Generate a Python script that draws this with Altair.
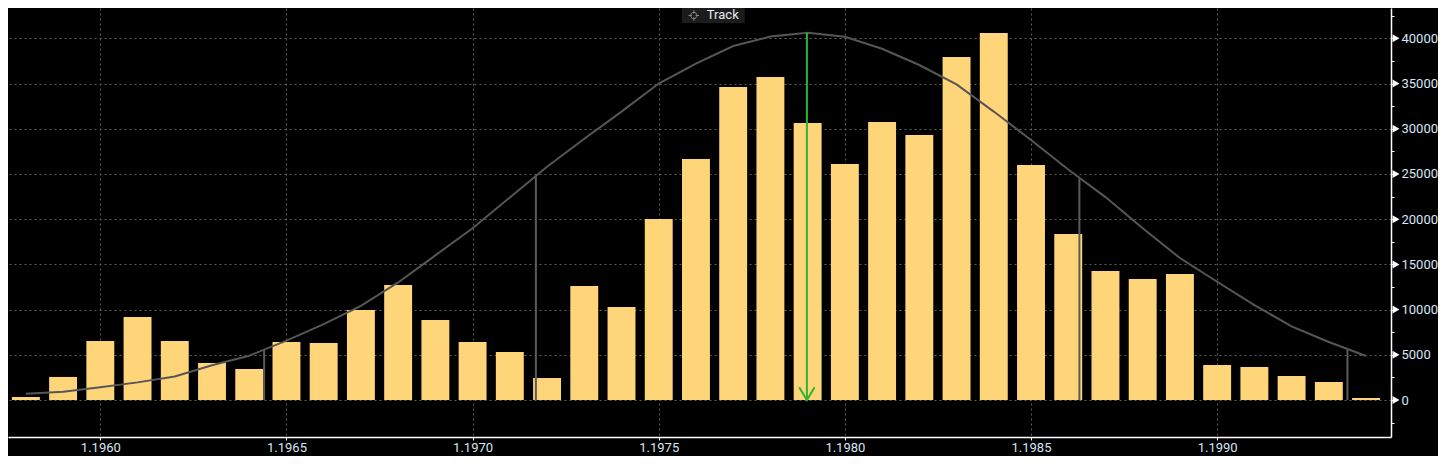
import altair as alt
import pandas as pd

# ---- data ----
prices = [1.1958, 1.1959, 1.1960, 1.1961, 1.1962, 1.1963, 1.1964, 1.1965, 1.1966, 1.1967,
          1.1968, 1.1969, 1.1970, 1.1971, 1.1972, 1.1973, 1.1974, 1.1975, 1.1976, 1.1977,
          1.1978, 1.1979, 1.1980, 1.1981, 1.1982, 1.1983, 1.1984, 1.1985, 1.1986, 1.1987,
          1.1988, 1.1989, 1.1990, 1.1991, 1.1992, 1.1993, 1.1994]
volumes = [330, 2550, 6530, 9180, 6530, 4090, 3430, 6420, 6300, 9960,
           12720, 8850, 6420, 5310, 2430, 12610, 10290, 20020, 26660, 34620,
           35730, 30640, 26110, 30750, 29310, 37940, 40600, 26000, 18360, 14270,
           13390, 13940, 3870, 3650, 2660, 1990, 220]
curve = [680, 900, 1400, 1950, 2600, 3850, 4900, 6560, 8400, 10400,
         13000, 16000, 18990, 22400, 25800, 28900, 31900, 35000, 37200, 39150,
         40200, 40620, 40170, 38850, 37050, 34900, 31900, 28750, 25500, 22440,
         19000, 15700, 13080, 10500, 8150, 6420, 4870]
sigma_prices = [1.19644, 1.19717, 1.19863, 1.19935]
sigma_tops = [5530, 24700, 24520, 5530]
mean_price = [1.197898]
mean_top = [40620]
x_ticks = [1.1960, 1.1965, 1.1970, 1.1975, 1.1980, 1.1985, 1.1990]
y_ticks = [-2500, 0, 2500, 5000, 7500, 10000, 12500, 15000, 17500, 20000, 22500,
           25000, 27500, 30000, 32500, 35000, 37500, 40000, 42500]
y_major = [0, 5000, 10000, 15000, 20000, 25000, 30000, 35000, 40000]
x_domain = [1.195752, 1.199467]
y_domain = [-4092, 43355]
bin_width = 0.0001
# "Track" button annotation (data coordinates of its box and label)
track_label = ["Track"]
track_x = [1.197562, 1.197731]
track_y = [41700, 43355]

LABEL = "#d9e6f7"
GRID = "#5e5e5e"
FONT = "Roboto"

hist = pd.DataFrame({"price": prices, "vol": volumes, "fit": curve})
sig = pd.DataFrame({"price": sigma_prices, "top": sigma_tops})
mean = pd.DataFrame({"price": mean_price, "top": mean_top})
ticks = pd.DataFrame({"v": y_major, "edge": [x_domain[1]] * len(y_major)})
track = pd.DataFrame({"label": track_label, "x0": [track_x[0]], "x1": [track_x[1]],
                      "y0": [track_y[0]], "y1": [track_y[1]]})

xscale = alt.Scale(domain=x_domain, nice=False, zero=False)
yscale = alt.Scale(domain=y_domain, nice=False, zero=False)

major_test = "datum.value % 5000 == 0 && datum.value >= 0"

x_axis = alt.Axis(values=x_ticks, format=".4f", title=None, grid=True,
                  gridColor=GRID, gridDash=[2, 3], gridWidth=1,
                  domainColor="white", domainWidth=1.5, tickColor="white", tickSize=3,
                  labelColor=LABEL, labelFont=FONT, labelFontSize=13, labelPadding=1)
y_axis = alt.Axis(orient="right", values=y_ticks, format="d", title=None, grid=True,
                  gridColor=GRID, gridDash=[2, 3], gridWidth=1,
                  gridOpacity={"condition": {"test": major_test, "value": 1}, "value": 0},
                  labelExpr=f"{major_test} ? datum.label : ''",
                  domainColor="white", domainWidth=1.5, tickColor="white", tickSize=3,
                  labelColor=LABEL, labelFont=FONT, labelFontSize=13, labelPadding=7)


def X(field):
    return alt.X(field, scale=xscale, axis=x_axis)


def Y(field):
    return alt.Y(field, scale=yscale, axis=y_axis)


bars = alt.Chart(hist).transform_calculate(
    lo=f"datum.price - {bin_width} * 0.375",
    hi=f"datum.price + {bin_width} * 0.375",
    base="0",
).mark_bar(color="#FFD57A").encode(
    x=X("lo:Q"), x2="hi:Q", y=Y("vol:Q"), y2="base:Q",
)

fit = alt.Chart(hist).mark_line(color="#565656", strokeWidth=2).encode(
    x=X("price:Q"), y=Y("fit:Q"),
)

sig_rules = alt.Chart(sig).transform_calculate(base="0").mark_rule(
    color="#5c5c5c", strokeWidth=2).encode(
    x=X("price:Q"), y=Y("top:Q"), y2="base:Q",
)

mean_rule = alt.Chart(mean).transform_calculate(base="0").mark_rule(
    color="#2fb52f", strokeWidth=2).encode(
    x=X("price:Q"), y=Y("top:Q"), y2="base:Q",
)

arrow_head = alt.Chart(mean).transform_calculate(base="0").mark_point(
    shape="M-1,-1.66L0,0L1,-1.66", filled=False, stroke="#2fb52f",
    strokeWidth=2, size=237, opacity=1,
).encode(x=X("price:Q"), y=Y("base:Q"))

axis_marks = alt.Chart(ticks).mark_point(
    shape="triangle-right", filled=True, color="white", size=64, opacity=1, xOffset=5,
).encode(x=X("edge:Q"), y=Y("v:Q"))

track_box = alt.Chart(track).mark_rect(color="#1c1c1c").encode(
    x=X("x0:Q"), x2="x1:Q", y=Y("y0:Q"), y2="y1:Q",
)
track_icon = alt.Chart(track).mark_point(
    shape="M-1,0H-0.35M0.35,0H1M0,-1V-0.35M0,0.35V1M0.6,0A0.6,0.6 0 1 1 -0.6,0A0.6,0.6 0 1 1 0.6,0",
    filled=False, stroke="#8a8a8a", strokeWidth=1, size=110, opacity=1, xOffset=12,
).encode(x=X("x0:Q"), y=Y("mid:Q")).transform_calculate(mid="(datum.y0 + datum.y1) / 2")
track_text = alt.Chart(track).transform_calculate(
    mid="(datum.y0 + datum.y1) / 2"
).mark_text(
    align="left", baseline="middle", color="#e6eaf0", font=FONT, fontSize=13, dx=25,
).encode(x=X("x0:Q"), y=Y("mid:Q"), text="label:N")

chart = alt.layer(
    bars, fit, sig_rules, mean_rule, arrow_head, axis_marks,
    track_box, track_icon, track_text,
).properties(
    width=1383, height=429,
    padding={"left": 0, "top": 0, "right": 47, "bottom": 19},
    autosize=alt.AutoSizeParams(type="none"),
    background="black",
).configure_view(stroke=None)

chart.save("out.html", embed_options={"renderer": "svg", "actions": False})
